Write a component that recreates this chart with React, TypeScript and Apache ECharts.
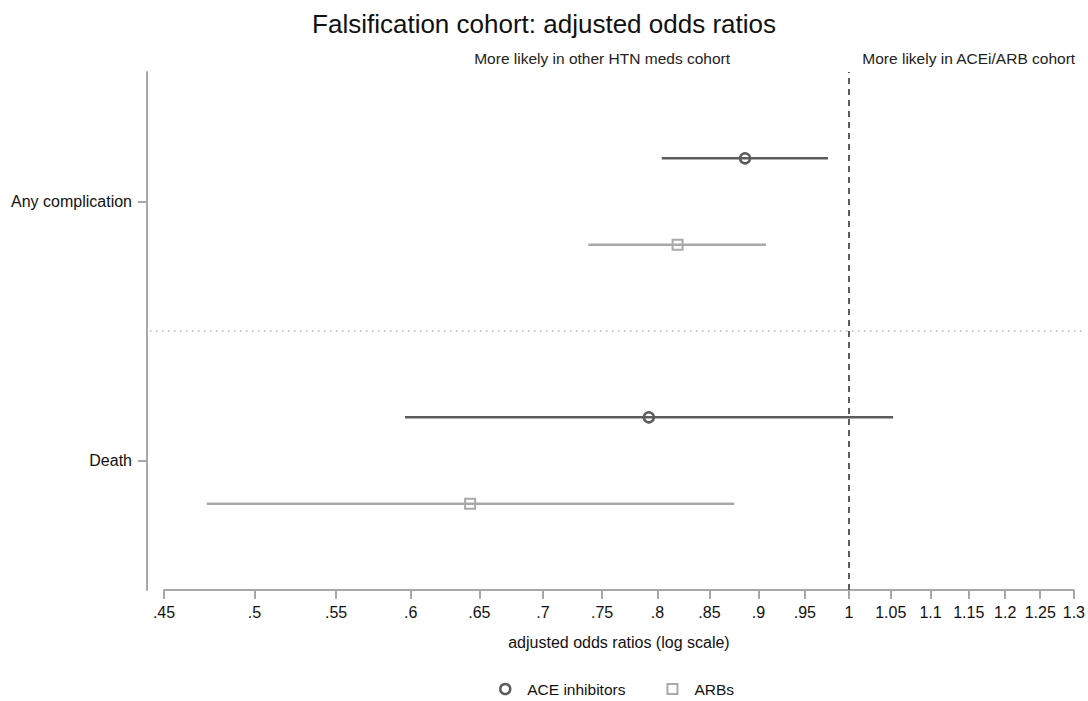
import React, { useEffect, useRef } from "react";
import * as echarts from "echarts";

// Outcomes (y positions 1 = Death, 2 = Any complication)
const outcomes = ["Death", "Any complication"];
const outcomePos = [1, 2];
const seriesNames = ["ACE inhibitors", "ARBs"];

// Adjusted odds ratios and 95% CIs, ordered as outcomes
const aceOR = [0.792, 0.886];
const aceLo = [0.596, 0.804];
const aceHi = [1.053, 0.976];
const arbOR = [0.643, 0.819];
const arbLo = [0.473, 0.738];
const arbHi = [0.875, 0.908];

const xTicks = [0.45, 0.5, 0.55, 0.6, 0.65, 0.7, 0.75, 0.8, 0.85, 0.9, 0.95, 1, 1.05, 1.1, 1.15, 1.2, 1.25, 1.3];
const xMin = 0.45;
const xMax = 1.3;
const refOR = 1;
const annotations = [
  { text: "More likely in other HTN meds cohort", at: 0.75 },
  { text: "More likely in ACEi/ARB cohort", at: 1.15 },
];

const GROUP_SHIFT = 1 / 6;
const ACE_COLOR = "#5c5c5c";
const ARB_COLOR = "#a9a9a9";
const AXIS_COLOR = "#a8a8a8";
const FONT = "'Liberation Sans', Arial, Helvetica, sans-serif";

const fmtTick = (v: number) => {
  const r = Math.round(Math.exp(v) * 100) / 100;
  const s = String(r);
  return r < 1 ? s.replace(/^0/, "") : s;
};

const ciRender = (color: string) => (params: any, api: any) => {
  const y = api.value(0);
  const p1 = api.coord([api.value(1), y]);
  const p2 = api.coord([api.value(2), y]);
  return {
    type: "line",
    shape: { x1: p1[0], y1: p1[1], x2: p2[0], y2: p2[1] },
    style: { stroke: color, lineWidth: 2.5 },
  };
};

export default function App() {
  const ref = useRef<HTMLDivElement>(null);
  useEffect(() => {
    if (!ref.current) return;
    const chart = echarts.init(ref.current, undefined, { renderer: "svg" });
    const aceY = outcomePos.map((p) => p + GROUP_SHIFT);
    const arbY = outcomePos.map((p) => p - GROUP_SHIFT);
    const option: any = {
      animation: false,
      backgroundColor: "#ffffff",
      textStyle: { fontFamily: FONT },
      title: {
        text: "Falsification cohort: adjusted odds ratios",
        left: "center",
        top: 6,
        textStyle: { fontFamily: FONT, fontSize: 26, fontWeight: "normal", color: "#111" },
      },
      grid: { left: 164, right: 14, top: 72, bottom: 111 },
      xAxis: {
        type: "value",
        min: Math.log(xMin),
        max: Math.log(xMax),
        name: "adjusted odds ratios (log scale)",
        nameLocation: "middle",
        nameGap: 44,
        nameTextStyle: { fontFamily: FONT, fontSize: 16, color: "#111" },
        axisLine: { show: true, onZero: false, lineStyle: { color: AXIS_COLOR, width: 2 } },
        axisTick: { show: true, length: 9, customValues: xTicks.map(Math.log), lineStyle: { color: AXIS_COLOR, width: 2 } },
        axisLabel: { customValues: xTicks.map(Math.log), formatter: fmtTick, fontFamily: FONT, fontSize: 16, color: "#111", margin: 14 },
        splitLine: { show: false },
      },
      yAxis: {
        type: "value",
        min: 0.5,
        max: 2.5,
        offset: 17,
        axisLine: { show: true, onZero: false, lineStyle: { color: AXIS_COLOR, width: 2 } },
        axisTick: { show: true, length: 9, customValues: outcomePos, lineStyle: { color: AXIS_COLOR, width: 2 } },
        axisLabel: {
          customValues: outcomePos,
          formatter: (v: number) => outcomes[outcomePos.indexOf(Math.round(v))] ?? "",
          fontFamily: FONT,
          fontSize: 16,
          color: "#111",
          margin: 15,
        },
        splitLine: { show: false },
      },
      legend: {
        top: 676,
        left: 494,
        itemGap: 41,
        itemWidth: 10,
        itemHeight: 10,
        textStyle: { fontFamily: FONT, fontSize: 15.5, color: "#111", padding: [0, 0, 0, 12] },
        data: [
          { name: seriesNames[0], icon: "circle", itemStyle: { color: "transparent", borderColor: ACE_COLOR, borderWidth: 2.5 } },
          { name: seriesNames[1], icon: "rect", itemStyle: { color: "transparent", borderColor: ARB_COLOR, borderWidth: 2 } },
        ],
      },
      series: [
        {
          type: "scatter",
          name: seriesNames[0],
          symbol: "circle",
          symbolSize: 10,
          z: 5,
          itemStyle: { color: "transparent", borderColor: ACE_COLOR, borderWidth: 2.5, opacity: 1 },
          data: aceOR.map((v, i) => [Math.log(v), aceY[i]]),
          markLine: {
            silent: true,
            symbol: "none",
            label: { show: false },
            lineStyle: { color: ACE_COLOR, type: [6, 5], width: 2 },
            data: [{ xAxis: Math.log(refOR) }],
          },
        },
        {
          type: "scatter",
          name: seriesNames[1],
          symbol: "rect",
          symbolSize: 10,
          z: 5,
          itemStyle: { color: "transparent", borderColor: ARB_COLOR, borderWidth: 2, opacity: 1 },
          data: arbOR.map((v, i) => [Math.log(v), arbY[i]]),
        },
        {
          type: "custom",
          name: seriesNames[0],
          renderItem: ciRender(ACE_COLOR),
          encode: { x: [1, 2], y: 0 },
          data: aceLo.map((lo, i) => [aceY[i], Math.log(lo), Math.log(aceHi[i])]),
          z: 3,
        },
        {
          type: "custom",
          name: seriesNames[1],
          renderItem: ciRender(ARB_COLOR),
          encode: { x: [1, 2], y: 0 },
          data: arbLo.map((lo, i) => [arbY[i], Math.log(lo), Math.log(arbHi[i])]),
          z: 3,
        },
      ],
    };
    chart.setOption(option);

    // Separator between outcomes and annotations, positioned via axis scales
    const sepY = chart.convertToPixel({ yAxisIndex: 0 }, 1.5) as number;
    const leftX = (chart.convertToPixel({ xAxisIndex: 0 }, Math.log(xMin)) as number) - 14;
    const rightX = (chart.convertToPixel({ xAxisIndex: 0 }, Math.log(xMax)) as number) + 11;
    const topY = chart.convertToPixel({ yAxisIndex: 0 }, 2.5) as number;
    chart.setOption({
      graphic: [
        {
          type: "line",
          silent: true,
          shape: { x1: leftX, y1: sepY, x2: rightX, y2: sepY },
          style: { stroke: "#b5b5b5", lineWidth: 1.5, lineDash: [1.5, 4.5] },
          z: 1,
        },
        ...annotations.map((a) => ({
          type: "text",
          silent: true,
          x: chart.convertToPixel({ xAxisIndex: 0 }, Math.log(a.at)) as number,
          y: topY - 14,
          style: {
            text: a.text,
            fontFamily: FONT,
            fontSize: 15.5,
            fill: "#222",
            textAlign: "center",
            textVerticalAlign: "middle",
          },
        })),
      ],
    });

    return () => chart.dispose();
  }, []);
  return (
    <div
      ref={ref}
      style={{ position: "fixed", left: 0, top: 0, width: 1088, height: 701, background: "#fff" }}
    />
  );
}
